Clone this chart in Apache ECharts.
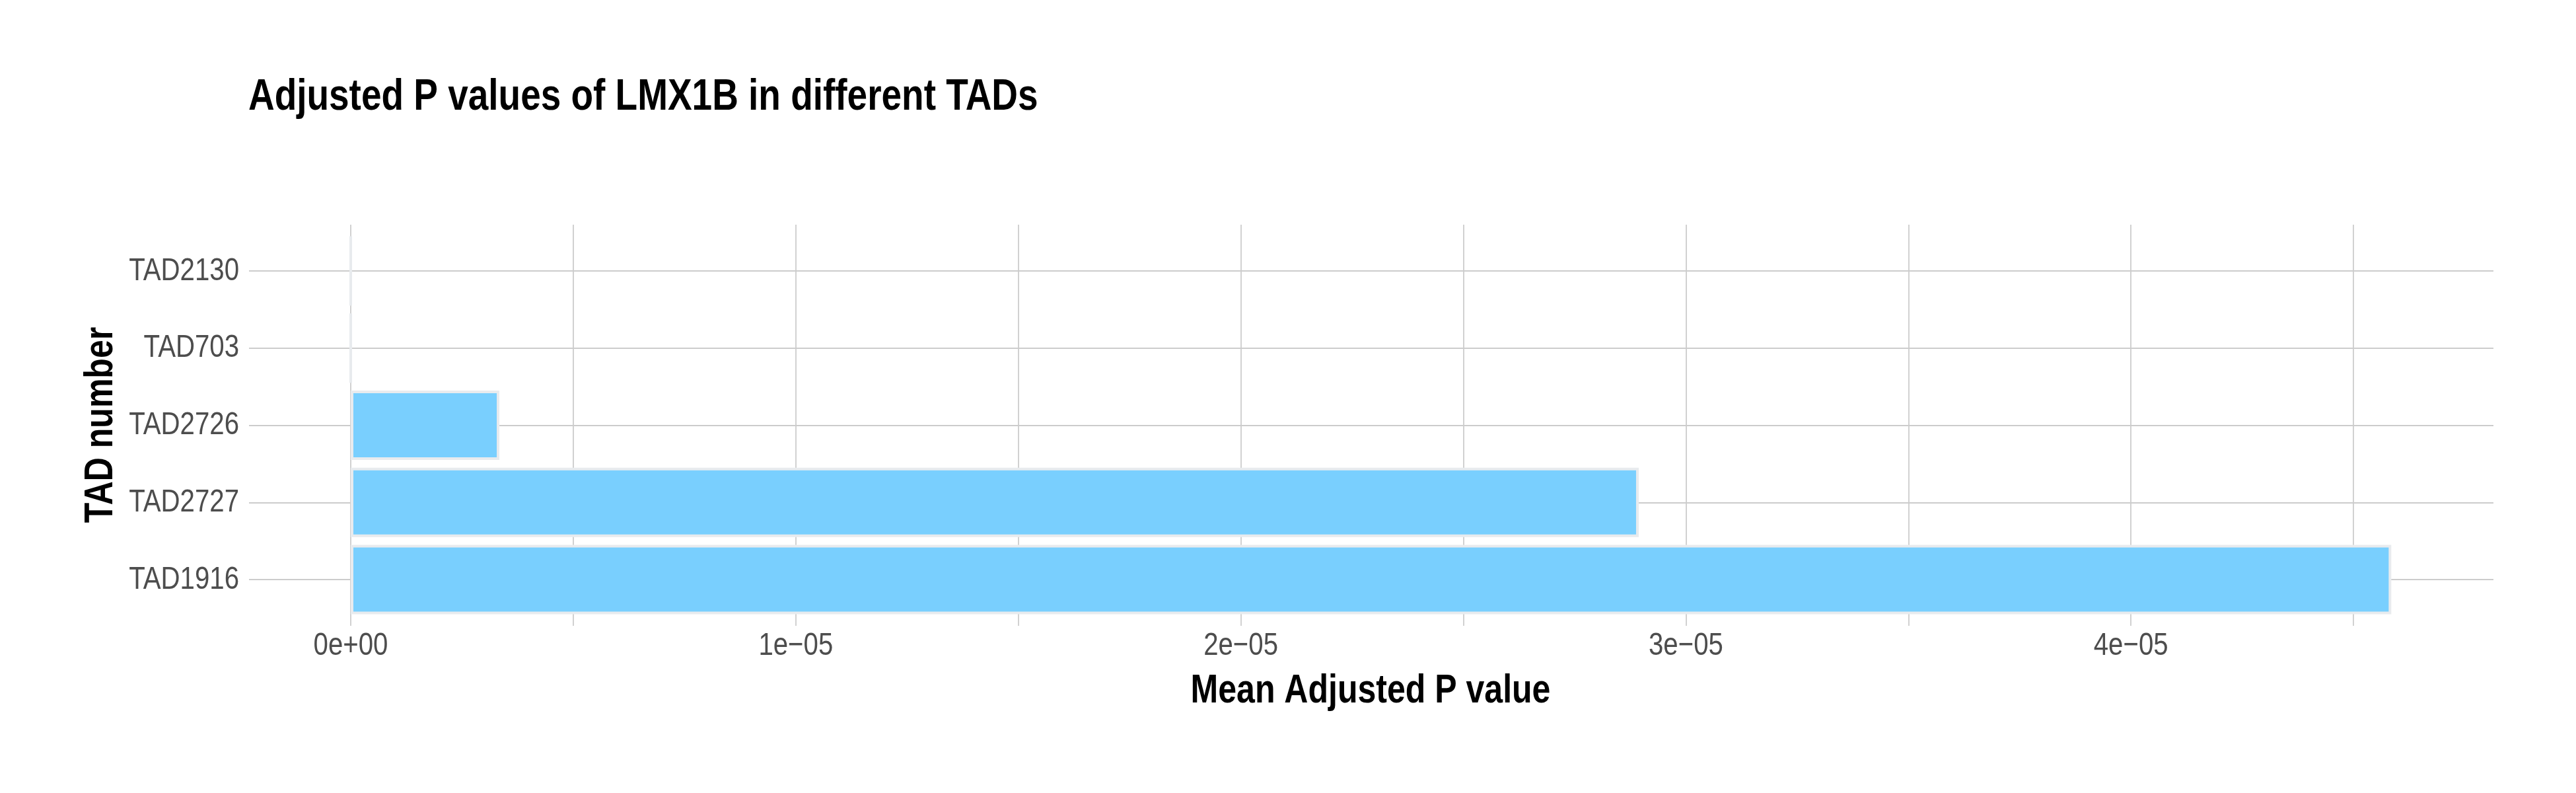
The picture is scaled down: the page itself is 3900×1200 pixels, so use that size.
<!DOCTYPE html>
<html>
<head>
<meta charset="utf-8">
<script src="https://cdn.jsdelivr.net/npm/echarts@6/dist/echarts.min.js"></script>
<style>
  html, body { margin: 0; padding: 0; background: #ffffff; }
  #chart { width: 3900px; height: 1200px; }
</style>
</head>
<body>
<div id="chart"></div>
<script>
// categories listed bottom to top
const tads = ['TAD1916', 'TAD2727', 'TAD2726', 'TAD703', 'TAD2130']
const meanAdjP = [4.585e-5, 2.894e-5, 3.34e-6, 1e-9, 1e-9]
const xTickValues = [0, 1e-5, 2e-5, 3e-5, 4e-5]
const xTickLabels = ['0e+00', '1e\u221205', '2e\u221205', '3e\u221205', '4e\u221205']

// no narrow font installed, so text is squeezed horizontally instead
const FONT = '"Liberation Sans", Arial, sans-serif'
const NARROW = 0.82
const GRID_COLOR = '#cccccc'
const LABEL_COLOR = '#4d4d4d'

const chart = echarts.init(document.getElementById('chart'), null, { renderer: 'canvas' })

const option = {
    backgroundColor: '#ffffff',
    animation: false,
    grid: [
        // horizontal grid lines
        { left: 377, right: 125, top: 410, bottom: 323 },
        // vertical grid lines
        { left: 531, right: -3.5, top: 340, bottom: 253 },
        // bars
        { left: 531, right: -3.5, top: 351.6, bottom: 264.6 }
    ],
    xAxis: [
        {
            gridIndex: 0, type: 'value', min: 0, max: 1,
            axisLine: { show: false }, axisTick: { show: false },
            axisLabel: { show: false }, splitLine: { show: false }
        },
        {
            gridIndex: 1, type: 'value', min: 0, max: 5e-5, interval: 1e-5,
            axisLine: { show: false }, axisTick: { show: false },
            axisLabel: { show: false },
            splitLine: { show: true, showMaxLine: false, lineStyle: { color: GRID_COLOR, width: 1.8 } },
            minorTick: { show: false, splitNumber: 2 },
            minorSplitLine: { show: true, lineStyle: { color: GRID_COLOR, width: 1.8 } }
        },
        {
            gridIndex: 2, type: 'value', min: 0, max: 5e-5,
            show: false
        }
    ],
    yAxis: [
        {
            gridIndex: 0, type: 'category', data: tads, boundaryGap: false,
            axisLine: { show: false }, axisTick: { show: false },
            axisLabel: { show: false },
            splitLine: { show: true, lineStyle: { color: GRID_COLOR, width: 2 } }
        },
        {
            gridIndex: 1, type: 'category', data: tads, show: false
        },
        {
            gridIndex: 2, type: 'category', data: tads, show: false
        }
    ],
    series: [
        {
            type: 'bar',
            xAxisIndex: 2,
            yAxisIndex: 2,
            data: meanAdjP,
            barWidth: '90%',
            itemStyle: { color: '#79cffe', borderColor: '#e8ebee', borderWidth: 4 }
        }
    ]
}

chart.setOption(option)

function narrowText(text, x, y, size, opts) {
    opts = opts || {}
    return {
        type: 'text',
        x: x,
        y: y,
        scaleX: NARROW,
        rotation: opts.rotation || 0,
        silent: true,
        style: {
            text: text,
            fontFamily: FONT,
            fontSize: size,
            fontWeight: opts.bold ? 'bold' : 'normal',
            fill: opts.color || '#000000',
            align: opts.align || 'center',
            verticalAlign: 'middle'
        }
    }
}

const labels = []

// title and axis names
labels.push(narrowText('Adjusted P values of LMX1B in different TADs', 376, 148, 67, { bold: true, align: 'left' }))
labels.push(narrowText('Mean Adjusted P value', 2075, 1046, 61, { bold: true }))
labels.push(narrowText('TAD number', 153, 643, 61, { bold: true, rotation: Math.PI / 2 }))

// tick labels placed through the axes
xTickValues.forEach(function (v, i) {
    const px = chart.convertToPixel({ xAxisIndex: 1 }, v)
    labels.push(narrowText(xTickLabels[i], px, 977, 49, { color: LABEL_COLOR }))
})
tads.forEach(function (t) {
    const py = chart.convertToPixel({ yAxisIndex: 0 }, t)
    labels.push(narrowText(t, 362, py, 49, { color: LABEL_COLOR, align: 'right' }))
})

chart.setOption({ graphic: labels })
</script>
</body>
</html>
